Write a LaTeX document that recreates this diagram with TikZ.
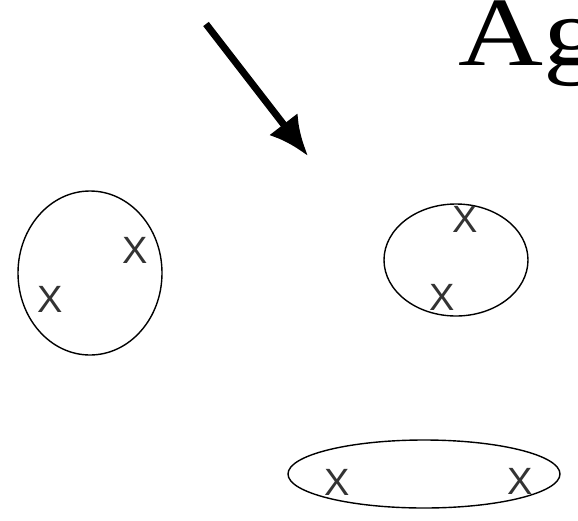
\documentclass[tikz,border=0pt]{standalone}
\usepackage{fontspec}
\setmainfont{Liberation Serif}
\newfontfamily\markfont{Liberation Sans}
\usetikzlibrary{arrows.meta}
\tikzset{
	mark x/.style={inner sep=0pt, font=\markfont\fontsize{38}{38}\selectfont, text=black!80},
	cluster/.style={draw, line width=1.4pt}
}
\begin{document}
\begin{tikzpicture}[x=1pt,y=-1pt]
		\useasboundingbox (0,0) rectangle (578,520);
		% title, cut off at the right edge
		\node[anchor=base west, inner sep=0pt, xscale=1.2, font=\fontsize{98}{98}\selectfont] (title) at (458,65) {Ag};

		\coordinate (from) at (206,24);
		\coordinate (to) at (308,156);
		\draw[line width=7pt, -{Latex[length=40pt,width=36pt]}] (from) -- (to);

		\draw[cluster] (90,273) ellipse (72 and 82);
		\draw[cluster] (456,260) ellipse (72 and 56);
		\draw[cluster] (424,474) ellipse (136 and 34);

	    \node[mark x] (a1) at (135,250) {X};
	    \node[mark x] (a2) at (50,299) {X};
	    \node[mark x] (b1) at (465,219) {X};
	    \node[mark x] (b2) at (442,297) {X};
	    \node[mark x] (c1) at (337,482) {X};
	    \node[mark x] (c2) at (520,481) {X};
\end{tikzpicture}
\end{document}
